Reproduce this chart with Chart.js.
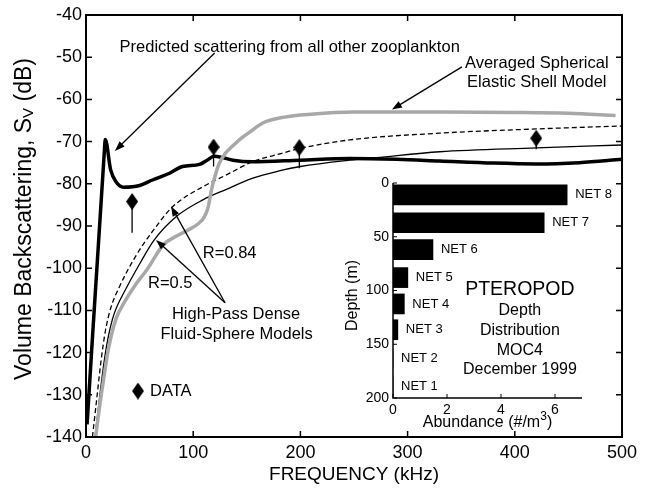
<!DOCTYPE html>
<html>
<head>
<meta charset="utf-8">
<script src="https://cdn.jsdelivr.net/npm/chart.js@4.4.1/dist/chart.umd.min.js"></script>
<style>
  html, body { margin: 0; padding: 0; background: #fff; }
  #wrap { position: relative; width: 652px; height: 490px; }
  #main { position: absolute; left: 0; top: 0; }
  #inset { position: absolute; left: 330px; top: 170px; }
</style>
</head>
<body>
<div id="wrap">
  <canvas id="main" width="652" height="490"></canvas>
  <canvas id="inset" width="300" height="270"></canvas>
</div>
<script>
// predicted scattering from all other zooplankton (thick black)
const predFreq = [1, 17, 18, 23, 28, 35, 50, 62, 78, 90, 106, 113, 119.5, 126, 137, 155, 200, 246, 290, 330, 380, 420, 460, 500];
const predSv   = [-137, -72.8, -69.5, -76.7, -79.5, -80.8, -80.4, -79.1, -77.5, -75.9, -75.4, -74.4, -73.5, -73.7, -74.4, -74.8, -74.4, -74.0, -74.2, -74.6, -75.1, -75.3, -75.0, -74.2];

// averaged spherical elastic shell model (gray)
const shellFreq = [9, 12, 16, 21, 28, 36, 46, 57, 72, 85, 95, 105, 110, 114, 117, 120, 124, 130, 137, 145, 153, 165, 185, 210, 250, 330, 400, 450, 494];
const shellSv   = [-140, -134, -127, -119, -112, -108, -104, -100.3, -94.5, -92.3, -91, -89.4, -88, -85.5, -81.5, -78.5, -75.3, -72.8, -71, -69.2, -67.7, -65.6, -64.2, -63.5, -63, -63, -63.1, -63.3, -63.8];

// high-pass dense fluid sphere, R=0.84 (dashed)
const r84Freq = [6, 10, 14, 18, 23, 31, 46, 62, 81, 109, 131, 155, 181, 200, 246, 330, 420, 500];
const r84Sv   = [-140, -131, -122, -115, -109.5, -104.5, -97.3, -91.3, -85.4, -80.7, -77.9, -74.8, -72.9, -71.6, -69.6, -68, -67, -66.3];

// high-pass dense fluid sphere, R=0.5 (thin solid)
const r50Freq = [8.5, 12.5, 17, 21, 26, 37, 50, 63, 84, 109, 131, 155, 181, 200, 246, 271, 330, 420, 500];
const r50Sv   = [-140, -131, -122, -116, -111, -105, -99, -93.5, -87.8, -83.8, -81.3, -78.7, -76.9, -75.9, -74.4, -73.8, -72.4, -71.5, -70.8];

// measured data (diamonds) with lower error bars
const dataFreq = [43, 119, 199, 420];
const dataSv   = [-84.2, -71.3, -71.4, -69.2];
const dataLow  = [-91.6, -75.9, -76.3, -71.8];

// inset: pteropod depth distribution
const netNames = ['NET 8', 'NET 7', 'NET 6', 'NET 5', 'NET 4', 'NET 3', 'NET 2', 'NET 1'];
const netDepth = [11, 37, 62, 88, 112.5, 136.5, 163, 189];
const netAbund = [6.45, 5.6, 1.48, 0.55, 0.42, 0.18, 0, 0];

const FONT = '"Liberation Sans", Arial, Helvetica, sans-serif';
Chart.defaults.font.family = FONT;
Chart.defaults.color = '#000';

const pts = (xs, ys) => xs.map((x, i) => ({ x, y: ys[i] }));

// tall diamond marker
function makeDiamond(w, h) {
  const c = document.createElement('canvas');
  c.width = w; c.height = h;
  const g = c.getContext('2d');
  g.fillStyle = '#000';
  g.beginPath();
  g.moveTo(w / 2, 0); g.lineTo(w, h / 2); g.lineTo(w / 2, h); g.lineTo(0, h / 2);
  g.closePath(); g.fill();
  return c;
}
const diamond = makeDiamond(12, 17);

function arrow(ctx, x1, y1, x2, y2) {
  const a = Math.atan2(y2 - y1, x2 - x1), L = 10, W = 3.6;
  ctx.beginPath();
  ctx.moveTo(x1, y1);
  ctx.lineTo(x2 - Math.cos(a) * L * 0.8, y2 - Math.sin(a) * L * 0.8);
  ctx.stroke();
  ctx.beginPath();
  ctx.moveTo(x2, y2);
  ctx.lineTo(x2 - Math.cos(a) * L + Math.sin(a) * W, y2 - Math.sin(a) * L - Math.cos(a) * W);
  ctx.lineTo(x2 - Math.cos(a) * L - Math.sin(a) * W, y2 - Math.sin(a) * L + Math.cos(a) * W);
  ctx.closePath();
  ctx.fill();
}

// error bars under the diamonds
const errorBars = {
  id: 'errorBars',
  beforeDatasetsDraw(chart) {
    const { ctx, scales: { x, y } } = chart;
    ctx.save();
    ctx.strokeStyle = '#000';
    ctx.lineWidth = 1.3;
    dataFreq.forEach((f, i) => {
      ctx.beginPath();
      ctx.moveTo(x.getPixelForValue(f), y.getPixelForValue(dataSv[i]));
      ctx.lineTo(x.getPixelForValue(f), y.getPixelForValue(dataLow[i]));
      ctx.stroke();
    });
    ctx.restore();
  }
};

// box with inward ticks, axis titles and annotations
const mainDecor = {
  id: 'mainDecor',
  afterDraw(chart) {
    const { ctx, chartArea: a, scales: { x, y } } = chart;
    ctx.save();
    ctx.strokeStyle = '#000';
    ctx.fillStyle = '#000';
    ctx.lineWidth = 2;
    ctx.strokeRect(a.left, a.top, a.right - a.left, a.bottom - a.top);
    ctx.lineWidth = 1.5;
    const tl = 6;
    x.ticks.forEach(t => {
      const px = x.getPixelForValue(t.value);
      ctx.beginPath();
      ctx.moveTo(px, a.bottom); ctx.lineTo(px, a.bottom - tl);
      ctx.moveTo(px, a.top); ctx.lineTo(px, a.top + tl);
      ctx.stroke();
    });
    y.ticks.forEach(t => {
      const py = y.getPixelForValue(t.value);
      ctx.beginPath();
      ctx.moveTo(a.left, py); ctx.lineTo(a.left + tl, py);
      ctx.moveTo(a.right, py); ctx.lineTo(a.right - tl, py);
      ctx.stroke();
    });

    // axis titles
    ctx.textBaseline = 'middle';
    ctx.textAlign = 'center';
    ctx.font = '19px ' + FONT;
    ctx.fillText('FREQUENCY (kHz)', (a.left + a.right) / 2, 475);

    ctx.save();
    ctx.translate(25, 219);
    ctx.rotate(-Math.PI / 2);
    const big = '23px ' + FONT, small = '15px ' + FONT;
    const p1 = 'Volume Backscattering, S', p2 = 'V', p3 = ' (dB)';
    ctx.font = big; const w1 = ctx.measureText(p1).width, w3 = ctx.measureText(p3).width;
    ctx.font = small; const w2 = ctx.measureText(p2).width;
    let sx = -(w1 + w2 + w3) / 2;
    ctx.textAlign = 'left';
    ctx.font = big; ctx.fillText(p1, sx, 0); sx += w1;
    ctx.font = small; ctx.fillText(p2, sx, 4); sx += w2;
    ctx.font = big; ctx.fillText(p3, sx, 0);
    ctx.restore();

    // annotations (data coordinates)
    const X = v => x.getPixelForValue(v), Y = v => y.getPixelForValue(v);
    ctx.font = '16.5px ' + FONT;
    ctx.textAlign = 'center';
    ctx.fillText('Predicted scattering from all other zooplankton', X(190), Y(-47.6));
    ctx.fillText('Averaged Spherical', X(420.5), Y(-51.4));
    ctx.fillText('Elastic Shell Model', X(420.5), Y(-55.9));
    ctx.fillText('High-Pass Dense', X(140), Y(-110.9));
    ctx.fillText('Fluid-Sphere Models', X(140.5), Y(-115.6));
    ctx.textAlign = 'left';
    ctx.fillText('R=0.84', X(109), Y(-96.4));
    ctx.fillText('R=0.5', X(57.8), Y(-103.5));
    ctx.fillText('DATA', X(59.7), Y(-129.1));
    ctx.drawImage(diamond, X(48.5) - diamond.width / 2, Y(-129.1) - diamond.height / 2);

    ctx.lineWidth = 1.3;
    arrow(ctx, X(120), Y(-49.0), X(27), Y(-72.2));
    arrow(ctx, X(350.7), Y(-52.3), X(285.4), Y(-62.4));
    arrow(ctx, X(129.7), Y(-108.2), X(79.3), Y(-85.3));
    arrow(ctx, X(129.7), Y(-108.2), X(65.3), Y(-93.3));
    ctx.restore();
  }
};

new Chart(document.getElementById('main'), {
  type: 'line',
  data: {
    datasets: [
      { data: pts(shellFreq, shellSv), borderColor: '#a8a8a8', borderWidth: 3.5, pointRadius: 0, cubicInterpolationMode: 'monotone' },
      { data: pts(r50Freq, r50Sv), borderColor: '#000', borderWidth: 1.3, pointRadius: 0, cubicInterpolationMode: 'monotone' },
      { data: pts(r84Freq, r84Sv), borderColor: '#000', borderWidth: 1.3, borderDash: [5, 3], pointRadius: 0, cubicInterpolationMode: 'monotone' },
      { data: pts(predFreq, predSv), borderColor: '#000', borderWidth: 3.5, pointRadius: 0, cubicInterpolationMode: 'monotone' },
      { data: pts(dataFreq, dataSv), showLine: false, pointStyle: diamond, pointRadius: 8 }
    ]
  },
  options: {
    responsive: false,
    animation: false,
    devicePixelRatio: 1,
    layout: { padding: { top: 15, right: 30, left: 0, bottom: 0 } },
    plugins: { legend: { display: false }, tooltip: { enabled: false } },
    scales: {
      x: {
        type: 'linear', min: 0, max: 500,
        ticks: { stepSize: 100, font: { size: 18 }, padding: 5, maxRotation: 0 },
        grid: { display: false, drawTicks: false },
        border: { display: false },
        afterFit: s => { s.height = 53; }
      },
      y: {
        type: 'linear', min: -140, max: -40,
        ticks: { stepSize: 10, font: { size: 18 }, padding: 4 },
        grid: { display: false, drawTicks: false },
        border: { display: false },
        afterFit: s => { s.width = 86; }
      }
    }
  },
  plugins: [errorBars, mainDecor]
});

// inset decorations: axes, NET labels, texts
const insetDecor = {
  id: 'insetDecor',
  afterDraw(chart) {
    const { ctx, chartArea: a, scales: { x, y } } = chart;
    ctx.save();
    ctx.strokeStyle = '#000';
    ctx.fillStyle = '#000';
    ctx.lineWidth = 1.5;
    ctx.beginPath();
    ctx.moveTo(a.left, a.top); ctx.lineTo(a.left, a.bottom); ctx.lineTo(a.right, a.bottom);
    ctx.stroke();
    ctx.lineWidth = 1;
    y.ticks.forEach(t => {
      const py = y.getPixelForValue(t.value);
      ctx.beginPath(); ctx.moveTo(a.left, py); ctx.lineTo(a.left + 4, py); ctx.stroke();
    });
    x.ticks.forEach(t => {
      const px = x.getPixelForValue(t.value);
      ctx.beginPath(); ctx.moveTo(px, a.bottom); ctx.lineTo(px, a.bottom - 4); ctx.stroke();
    });

    ctx.textBaseline = 'middle';
    ctx.textAlign = 'left';
    ctx.font = '13px ' + FONT;
    netNames.forEach((n, i) => {
      ctx.fillText(n, x.getPixelForValue(netAbund[i]) + 8, y.getPixelForValue(netDepth[i]));
    });

    ctx.textAlign = 'center';
    const cx = x.getPixelForValue(4.7);
    ctx.font = '19.5px ' + FONT;
    ctx.fillText('PTEROPOD', cx, y.getPixelForValue(99.5));
    ctx.font = '16px ' + FONT;
    ctx.fillText('Depth', cx, y.getPixelForValue(119));
    ctx.fillText('Distribution', cx, y.getPixelForValue(137.7));
    ctx.fillText('MOC4', cx, y.getPixelForValue(156));
    ctx.fillText('December 1999', cx, y.getPixelForValue(174));

    // axis titles
    ctx.save();
    ctx.translate(a.left - 40, (a.top + a.bottom) / 2 + 5);
    ctx.rotate(-Math.PI / 2);
    ctx.font = '16px ' + FONT;
    ctx.fillText('Depth (m)', 0, 0);
    ctx.restore();

    const t1 = 'Abundance (#/m', t2 = '3', t3 = ')';
    ctx.font = '16px ' + FONT;
    const w1 = ctx.measureText(t1).width, w3 = ctx.measureText(t3).width;
    ctx.font = '12px ' + FONT;
    const w2 = ctx.measureText(t2).width;
    let sx = (a.left + a.right) / 2 - (w1 + w2 + w3) / 2;
    const ty = a.bottom + 25;
    ctx.textAlign = 'left';
    ctx.font = '16px ' + FONT; ctx.fillText(t1, sx, ty); sx += w1;
    ctx.font = '12px ' + FONT; ctx.fillText(t2, sx, ty - 6); sx += w2;
    ctx.font = '16px ' + FONT; ctx.fillText(t3, sx, ty);
    ctx.restore();
  }
};

new Chart(document.getElementById('inset'), {
  type: 'bar',
  data: {
    datasets: [{
      data: pts(netAbund, netDepth),
      backgroundColor: '#000',
      borderWidth: 0,
      barThickness: 20
    }]
  },
  options: {
    indexAxis: 'y',
    responsive: false,
    animation: false,
    devicePixelRatio: 1,
    layout: { padding: { top: 13, right: 48, left: 0, bottom: 0 } },
    plugins: { legend: { display: false }, tooltip: { enabled: false } },
    scales: {
      y: {
        type: 'linear', reverse: true, min: 0, max: 200, offset: false,
        ticks: { stepSize: 50, font: { size: 14 }, padding: 4 },
        grid: { display: false, drawTicks: false },
        border: { display: false },
        afterFit: s => { s.width = 63; }
      },
      x: {
        type: 'linear', min: 0, max: 7, offset: false,
        ticks: { stepSize: 2, font: { size: 14 }, padding: 4, maxRotation: 0 },
        afterBuildTicks: s => { s.ticks = s.ticks.filter(t => t.value % 2 === 0); },
        grid: { display: false, drawTicks: false },
        border: { display: false },
        afterFit: s => { s.height = 42; }
      }
    }
  },
  plugins: [insetDecor]
});
</script>
</body>
</html>
